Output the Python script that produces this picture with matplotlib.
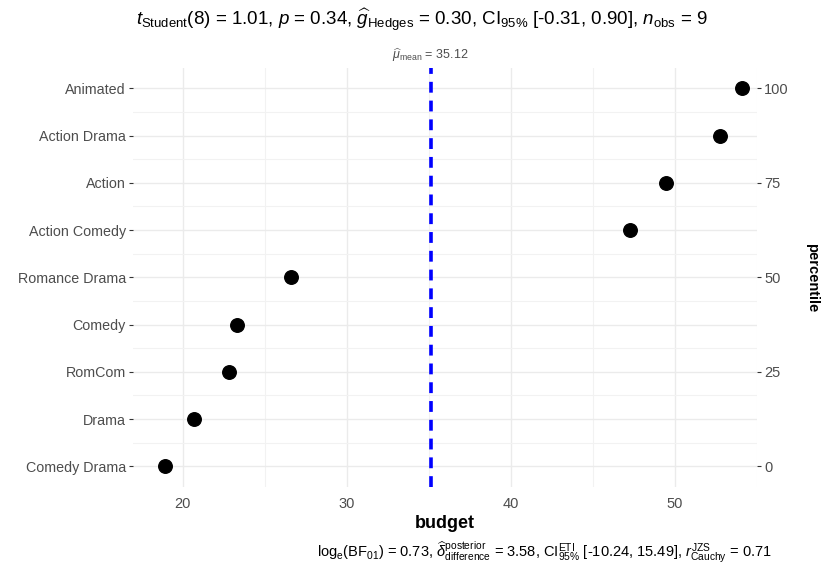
import numpy as np
from matplotlib import pyplot as plt

# budget per genre, bottom to top
genres = ["Comedy Drama", "Drama", "RomCom", "Comedy", "Romance Drama",
          "Action Comedy", "Action", "Action Drama", "Animated"]
budget = [18.9, 20.7, 22.8, 23.3, 26.6, 47.3, 49.5, 52.8, 54.1]
mean_budget = 35.12
pct_ticks = [0, 25, 50, 75, 100]
x_ticks = [20, 30, 40, 50]

title = (r"$t_{\mathrm{Student}}$(8) = 1.01, $p$ = 0.34, "
         r"$\widehat{g}_{\mathrm{Hedges}}$ = 0.30, CI$_{\mathrm{95\%}}$ "
         r"[-0.31, 0.90], $n_{\mathrm{obs}}$ = 9")
caption = (r"log$_{\mathrm{e}}$(BF$_{\mathrm{01}}$) = 0.73, "
           r"$\widehat{\delta}_{\mathrm{difference}}^{\mathrm{posterior}}$ = 3.58, "
           r"CI$_{\mathrm{95\%}}^{\mathrm{ETI}}$ [-10.24, 15.49], "
           r"$r_{\mathrm{Cauchy}}^{\mathrm{JZS}}$ = 0.71")


def main():
    plt.rcParams['font.family'] = ['Liberation Sans', 'DejaVu Sans']
    plt.rcParams['mathtext.fontset'] = 'custom'
    plt.rcParams['mathtext.rm'] = 'Liberation Sans'
    plt.rcParams['mathtext.it'] = 'Liberation Sans:italic'
    plt.rcParams['mathtext.bf'] = 'Liberation Sans:bold'

    n = len(genres)
    # percentile rank of each genre (ggstatsplot style)
    pct = np.arange(n) / (n - 1) * 100

    fig = plt.figure(figsize=(8.25, 5.69), dpi=100)
    ax = fig.add_axes([0.161, 0.144, 0.757, 0.736])

    ax.scatter(budget, pct, s=95, color="black", zorder=3)
    ax.axvline(mean_budget, color="blue", ls=(0, (3, 2.2)), lw=2.6, zorder=2)

    ax.set_xlim(16.95, 55.05)
    ax.set_ylim(-5.5, 105.3)
    ax.set_xticks(x_ticks)
    ax.set_xticks([25, 35, 45, 55], minor=True)
    ax.set_yticks(pct)
    ax.set_yticklabels(genres)
    ax.set_yticks(pct[:-1] + 6.25, minor=True)

    ax.grid(which="major", color="#EBEBEB", lw=1.0)
    ax.grid(which="minor", color="#F2F2F2", lw=0.8)
    ax.set_axisbelow(True)
    for s in ax.spines.values():
        s.set_visible(False)
    ax.tick_params(axis="y", which="major", colors="#333333", labelcolor="#4D4D4D",
                   labelsize=10.3, length=3, width=0.8, pad=2)
    ax.tick_params(axis="x", which="major", labelcolor="#4D4D4D", labelsize=10.5,
                   length=0, pad=7)
    ax.tick_params(which="minor", length=0)

    ax.set_xlabel("budget", fontsize=13, fontweight="bold", labelpad=3)

    ax2 = ax.twinx()
    ax2.set_ylim(ax.get_ylim())
    ax2.set_yticks(pct_ticks)
    ax2.tick_params(axis="y", colors="#333333", labelcolor="#4D4D4D",
                    labelsize=10.5, length=3, width=0.8, pad=2)
    for s in ax2.spines.values():
        s.set_visible(False)
    ax2.set_ylabel("percentile", fontsize=10.5, fontweight="bold",
                   rotation=-90, labelpad=22)

    # label for the mean line
    ax.text(mean_budget, 106.5, r"$\widehat{\mu}_{\mathrm{mean}}$ = 35.12",
            ha="center", va="bottom", fontsize=9, color="#4D4D4D")

    fig.text(0.512, 0.965, title, ha="center", va="center", fontsize=13.5)
    fig.text(0.935, 0.03, caption, ha="right", va="center", fontsize=10.5)

    plt.savefig("out.png", dpi=100)
    plt.clf()


if __name__ == '__main__':
    main()
